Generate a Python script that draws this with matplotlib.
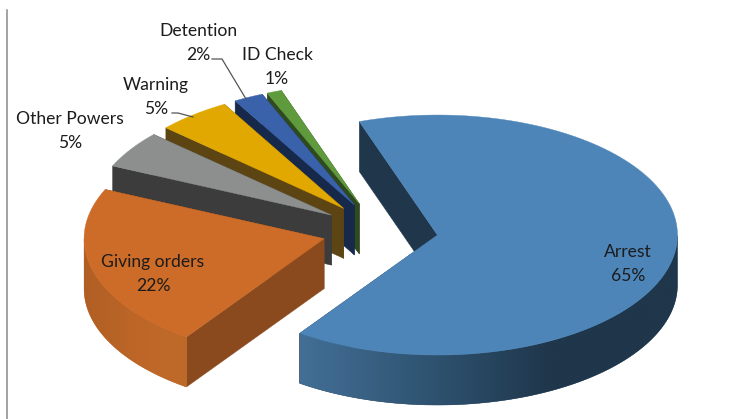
import numpy as np
import matplotlib
matplotlib.use("Agg")
import matplotlib.pyplot as plt
from matplotlib.colors import LinearSegmentedColormap
from matplotlib.patches import Polygon

names = ["Arrest", "Giving orders", "Other Powers", "Warning", "Detention", "ID Check"]
percent = [65, 22, 5, 5, 2, 1]

top_colors = ["#4d85b9", "#cd6b28", "#8c8f8d", "#e0a800", "#3a62ab", "#5f9a3c"]
side_colors = ["#1f364b", "#8a4a1e", "#3c3c3c", "#5c4512", "#16294a", "#2f4a1f"]
# outer wall shading, left to right
arc_colors = [
    ["#436f96", "#2f5472", "#1f364b", "#1f364b"],
    ["#b05f24", "#bd6628", "#c06a2a"],
    ["#3c3c3c", "#3c3c3c"],
    ["#5c4512", "#5c4512"],
    ["#16294a", "#16294a"],
    ["#2f4a1f", "#2f4a1f"],
]

# pie geometry in pixels
cx, cy = 380, 231
radius = 240
squash = 0.5
explode = 58
depth = 50
first_angle = -19

label_pos = [(628, 264), (153, 274), (70, 131), (156, 97), (198, 43), (277, 67)]
leaders = {
    "Warning": [(172, 113), (178, 113), (193, 117)],
    "Detention": [(212, 59), (222, 59), (246, 99)],
}


def project(x0, y0, angle):
    a = np.radians(angle)
    return x0 + radius * np.sin(a), y0 - radius * squash * np.cos(a)


fig = plt.figure(figsize=(7.44, 4.19), dpi=100)
ax = fig.add_axes([0, 0, 1, 1])
ax.set_xlim(0, 744)
ax.set_ylim(419, 0)
ax.axis("off")

ax.plot([7, 7], [10, 419], color="#8a8a8a", lw=1.1)

starts = first_angle + np.cumsum([0] + percent[:-1]) * 3.6
spans = np.array(percent) * 3.6

# small slices are at the back, so draw them first
zorder = 1
for i in range(len(percent) - 1, -1, -1):
    a0 = starts[i]
    a1 = a0 + spans[i]
    mid = np.radians(a0 + spans[i] / 2)
    x0 = cx + explode * np.sin(mid)
    y0 = cy - explode * squash * np.cos(mid)

    angles = np.linspace(a0, a1, int(spans[i] * 2) + 2)
    xs, ys = project(x0, y0, angles)

    for a in (a1, a0):
        ex, ey = project(x0, y0, a)
        ax.add_patch(Polygon([(x0, y0), (ex, ey), (ex, ey + depth), (x0, y0 + depth)],
                             closed=True, fc=side_colors[i], ec=side_colors[i], lw=0.3,
                             zorder=zorder))

    # outer wall only where it faces the viewer
    front = np.cos(np.radians(angles)) <= 0
    if front.sum() > 1:
        fx, fy = xs[front], ys[front]
        wall = list(zip(fx, fy)) + list(zip(fx[::-1], fy[::-1] + depth))
        cmap = LinearSegmentedColormap.from_list("wall", arc_colors[i])
        clip = Polygon(wall, closed=True, fc=cmap(0.5), ec=cmap(0.5), lw=0.3, zorder=zorder)
        ax.add_patch(clip)
        grad = np.linspace(0, 1, 256).reshape(1, -1)
        im = ax.imshow(grad, cmap=cmap, aspect="auto", zorder=zorder,
                       extent=(fx.min(), fx.max(), fy.max() + depth, fy.min()))
        im.set_clip_path(clip)

    face = [(x0, y0)] + list(zip(xs, ys))
    ax.add_patch(Polygon(face, closed=True, fc=top_colors[i], ec=top_colors[i], lw=0.3,
                         zorder=zorder))
    zorder += 1

ax.set_xlim(0, 744)
ax.set_ylim(419, 0)

for name in leaders:
    pts = np.array(leaders[name])
    ax.plot(pts[:, 0], pts[:, 1], color="#555555", lw=0.9, zorder=10)

for i in range(len(names)):
    ax.text(label_pos[i][0], label_pos[i][1], f"{names[i]}\n{percent[i]}%",
            ha="center", va="center", fontsize=12.6, family="Lato",
            color="#1c1c1c", linespacing=1.62, multialignment="center", zorder=11)

fig.savefig("out.png", dpi=100)
